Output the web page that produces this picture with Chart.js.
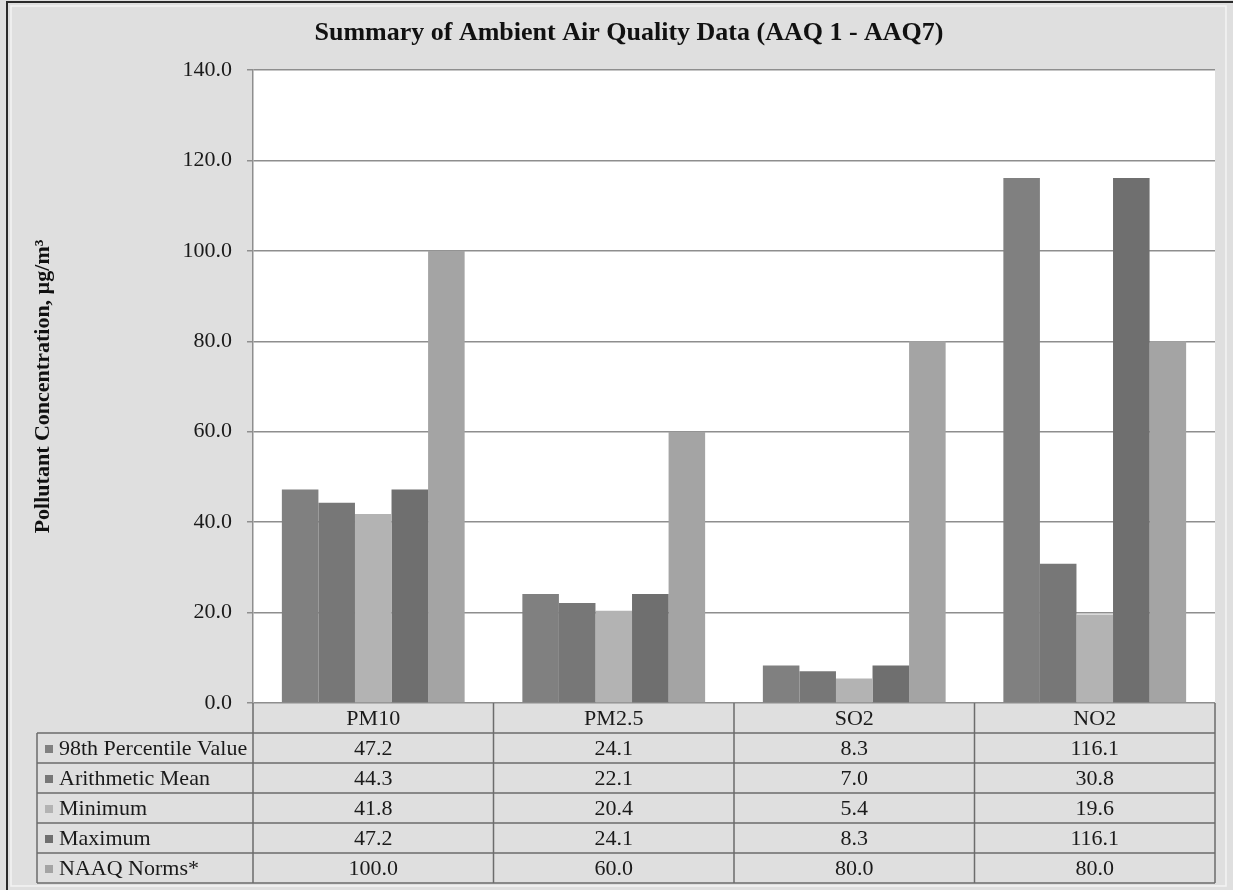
<!DOCTYPE html>
<html><head><meta charset="utf-8">
<script src="https://cdn.jsdelivr.net/npm/chart.js@4"></script>
<style>html,body{margin:0;padding:0;background:#dfdfdf;overflow:hidden;}</style>
</head><body>
<canvas id="c" width="1233" height="890"></canvas>
<script>
const categories = ['PM10', 'PM2.5', 'SO2', 'NO2'];
const seriesNames = ['98th Percentile Value', 'Arithmetic Mean', 'Minimum', 'Maximum', 'NAAQ Norms*'];
const percentile98 = [47.2, 24.1, 8.3, 116.1];
const arithmeticMean = [44.3, 22.1, 7.0, 30.8];
const minimum = [41.8, 20.4, 5.4, 19.6];
const maximum = [47.2, 24.1, 8.3, 116.1];
const naaqNorms = [100.0, 60.0, 80.0, 80.0];
const yTicks = [0, 20, 40, 60, 80, 100, 120, 140];
const titleText = 'Summary of Ambient Air Quality Data (AAQ 1 - AAQ7)';
const yTitle = 'Pollutant Concentration, \u00b5g/m\u00b3';
const colors = ['#808080', '#777777', '#b3b3b3', '#6f6f6f', '#a4a4a4'];

const seriesValues = [percentile98, arithmeticMean, minimum, maximum, naaqNorms];
const SERIF = '"Liberation Serif", "Times New Roman", serif';
const BG = '#dfdfdf';
const LINE = '#6c6c6c';

const bgPlugin = {
  id: 'bg',
  beforeDraw(chart) {
    const {ctx, width, height, chartArea: a} = chart;
    ctx.save();
    ctx.fillStyle = BG;
    ctx.fillRect(0, 0, width, height);
    ctx.fillStyle = '#ffffff';
    ctx.fillRect(a.left, a.top, a.right - a.left, a.bottom - a.top);
    // frame
    ctx.strokeStyle = '#f4f4f4';
    ctx.lineWidth = 1.5;
    ctx.strokeRect(11, 6, width - 18, height - 10);
    ctx.strokeStyle = '#2a2a2a';
    ctx.lineWidth = 2;
    ctx.beginPath();
    ctx.moveTo(7, height); ctx.lineTo(7, 2); ctx.lineTo(width, 2);
    ctx.stroke();
    // title
    ctx.fillStyle = '#111';
    ctx.font = 'bold 26px ' + SERIF;
    ctx.textAlign = 'center';
    ctx.textBaseline = 'middle';
    ctx.fillText(titleText, 629, 33);
    ctx.restore();
  }
};

const tablePlugin = {
  id: 'dataTable',
  afterDraw(chart) {
    const {ctx, chartArea: a} = chart;
    const xs = chart.scales.x;
    const n = categories.length;
    const colW = (a.right - a.left) / n;
    const rowH = 30;
    const top = a.bottom;
    const legendLeft = 37;
    const tableBottom = top + rowH * (seriesNames.length + 1);
    ctx.save();
    ctx.strokeStyle = LINE;
    ctx.lineWidth = 1.5;
    ctx.beginPath();
    for (let i = 0; i <= n; i++) {
      const x = a.left + colW * i;
      ctx.moveTo(x, top); ctx.lineTo(x, tableBottom);
    }
    ctx.moveTo(legendLeft, top + rowH); ctx.lineTo(legendLeft, tableBottom);
    for (let r = 1; r <= seriesNames.length + 1; r++) {
      const y = top + rowH * r;
      ctx.moveTo(legendLeft, y); ctx.lineTo(a.right, y);
    }
    ctx.stroke();
    ctx.fillStyle = '#1a1a1a';
    ctx.font = '22px ' + SERIF;
    ctx.textBaseline = 'middle';
    ctx.textAlign = 'center';
    categories.forEach((c, i) => {
      ctx.fillText(c, xs.getPixelForValue(i), top + rowH / 2 + 1);
    });
    seriesNames.forEach((name, r) => {
      const yc = top + rowH * (r + 1) + rowH / 2 + 1;
      ctx.fillStyle = colors[r];
      ctx.fillRect(legendLeft + 8, yc - 4, 8, 8);
      ctx.fillStyle = '#1a1a1a';
      ctx.textAlign = 'left';
      ctx.fillText(name, legendLeft + 22, yc);
      ctx.textAlign = 'center';
      seriesValues[r].forEach((v, i) => {
        ctx.fillText(v.toFixed(1), xs.getPixelForValue(i), yc);
      });
    });
    ctx.restore();
  }
};

new Chart(document.getElementById('c'), {
  type: 'bar',
  data: {
    labels: categories,
    datasets: seriesNames.map((name, i) => ({
      label: name,
      data: seriesValues[i],
      backgroundColor: colors[i],
      borderWidth: 0,
      categoryPercentage: 0.76,
      barPercentage: 1.0
    }))
  },
  options: {
    responsive: false,
    animation: false,
    devicePixelRatio: 1,
    layout: { padding: { left: 0, right: 18, top: 70, bottom: 187 } },
    plugins: {
      legend: { display: false },
      title: { display: false },
      tooltip: { enabled: false }
    },
    scales: {
      x: { display: false },
      y: {
        min: 0, max: 140,
        afterBuildTicks: s => { s.ticks = yTicks.map(v => ({ value: v })); },
        afterFit: s => { s.width = 253; },
        ticks: {
          callback: v => Number(v).toFixed(1),
          font: { family: SERIF, size: 22 },
          color: '#1a1a1a',
          padding: 15
        },
        grid: { color: '#8e8e8e', lineWidth: 1.5, tickLength: 6, drawTicks: true },
        border: { display: true, color: '#8e8e8e', width: 1.5 },
        title: {
          display: true,
          text: yTitle,
          font: { family: SERIF, size: 22, weight: 'bold' },
          color: '#111',
          padding: { top: 30, bottom: 0 }
        }
      }
    }
  },
  plugins: [bgPlugin, tablePlugin]
});
</script>
</body></html>
